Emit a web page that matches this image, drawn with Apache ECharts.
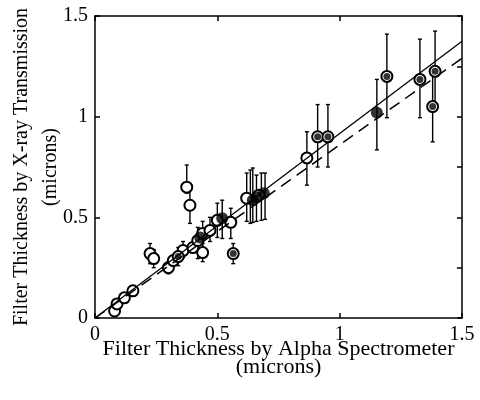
<!DOCTYPE html>
<html><head><meta charset="utf-8">
<script src="https://cdn.jsdelivr.net/npm/echarts@6/dist/echarts.min.js"></script>
<style>html,body{margin:0;padding:0;background:#fff}#c{width:480px;height:400px}</style>
</head><body><div id="c"></div>
<script>
// tick labels
const tickValues = [0, 0.5, 1, 1.5];
// open circles [x, y]
const openPts = [[0.08,0.035],[0.09,0.07],[0.12,0.10],[0.155,0.135],[0.225,0.32],[0.24,0.295],
  [0.30,0.25],[0.32,0.285],[0.36,0.335],[0.40,0.35],[0.42,0.385],[0.44,0.325],[0.44,0.42],
  [0.47,0.435],[0.375,0.65],[0.388,0.56],[0.50,0.485],[0.555,0.475],[0.62,0.595],[0.67,0.61],[0.866,0.795]];
// filled circles [x, y]
const filledPts = [[0.43,0.40],[0.52,0.495],[0.645,0.585],[0.66,0.60],[0.69,0.62],[1.152,1.02]];
// circles with dot [x, y]
const dotPts = [[0.34,0.305],[0.565,0.32],[0.91,0.90],[0.952,0.90],[1.193,1.2],[1.328,1.185],[1.39,1.225],[1.38,1.05]];
// error bars [x, low, high]
const errBars = [[0.225,0.27,0.37],[0.24,0.25,0.34],[0.30,0.22,0.28],[0.34,0.26,0.35],[0.36,0.30,0.38],
  [0.42,0.295,0.45],[0.44,0.28,0.37],[0.44,0.35,0.48],[0.47,0.38,0.50],[0.375,0.62,0.76],[0.388,0.47,0.65],
  [0.50,0.40,0.57],[0.52,0.395,0.585],[0.555,0.395,0.545],[0.565,0.27,0.37],[0.62,0.48,0.72],[0.635,0.47,0.735],
  [0.645,0.475,0.745],[0.66,0.48,0.71],[0.68,0.485,0.72],[0.695,0.49,0.72],[0.866,0.66,0.925],
  [0.91,0.75,1.06],[0.952,0.75,1.06],[1.152,0.835,1.185],[1.193,0.995,1.41],[1.328,0.995,1.385],
  [1.39,1.05,1.425],[1.38,0.875,1.22]];
// fit lines
const solidFit = [[0,0],[1.5,1.375]];
const dashedFit = [[0,0],[1.5,1.29]];

const FONT = '"Liberation Serif", "Times New Roman", serif';
const chart = echarts.init(document.getElementById('c'), null, {renderer:'canvas'});
const baseAxis = {min:0, max:1.5, interval:0.5,
  axisLine:{show:true, onZero:false, lineStyle:{color:'#000', width:1.5}},
  axisTick:{show:true, inside:true, length:5, lineStyle:{color:'#000', width:1.5}},
  splitLine:{show:false},
  axisLabel:{show:true, color:'#000', fontFamily:FONT, fontSize:20, margin:7,
    formatter: v => tickValues.includes(v) ? String(v) : ''}};
chart.setOption({
  animation:false,
  grid:{left:95, right:18, top:16, bottom:82, show:false, containLabel:false, outerBoundsMode:'none'},
  xAxis:[
    Object.assign({}, baseAxis, {type:'value', position:'bottom',
      name:'Filter Thickness by Alpha Spectrometer\n(microns)', nameLocation:'middle', nameGap:22, nameMoveOverlap:false,
      nameTextStyle:{color:'#000', fontFamily:FONT, fontSize:22, lineHeight:18, verticalAlign:'top'}}),
    Object.assign({}, baseAxis, {type:'value', position:'top', axisLabel:{show:false}})
  ],
  yAxis:[
    Object.assign({}, baseAxis, {type:'value', position:'left',
      name:'Filter Thickness by X-ray Transmission\n(microns)', nameLocation:'middle', nameGap:30, nameRotate:90, nameMoveOverlap:false,
      nameTextStyle:{color:'#000', fontFamily:FONT, fontSize:20, lineHeight:29}}),
    Object.assign({}, baseAxis, {type:'value', position:'right', interval:0.25, axisLabel:{show:false}})
  ],
  series:[
    {type:'line', data:solidFit, symbol:'none', lineStyle:{color:'#000', width:1.3}, silent:true},
    {type:'line', data:dashedFit, symbol:'none', lineStyle:{color:'#000', width:1.5, type:[12,7]}, silent:true},
    {type:'custom', data:errBars, silent:true,
      renderItem:(params, api)=>{
        const x = api.value(0);
        const lo = api.coord([x, api.value(1)]);
        const hi = api.coord([x, api.value(2)]);
        const st = {stroke:'#000', lineWidth:1.4};
        return {type:'group', children:[
          {type:'line', shape:{x1:lo[0], y1:lo[1], x2:hi[0], y2:hi[1]}, style:st},
          {type:'line', shape:{x1:lo[0]-2, y1:lo[1], x2:lo[0]+2, y2:lo[1]}, style:st},
          {type:'line', shape:{x1:hi[0]-2, y1:hi[1], x2:hi[0]+2, y2:hi[1]}, style:st}
        ]};
      }},
    {type:'scatter', data:openPts, symbol:'emptyCircle', symbolSize:11,
      itemStyle:{color:'#000', borderColor:'#000', borderWidth:1.6, opacity:1}},
    {type:'scatter', data:dotPts, symbol:'emptyCircle', symbolSize:11,
      itemStyle:{color:'#000', borderColor:'#000', borderWidth:1.6, opacity:1}},
    {type:'scatter', data:dotPts, symbol:'circle', symbolSize:7, itemStyle:{color:'#000'}},
    {type:'scatter', data:filledPts, symbol:'circle', symbolSize:12, itemStyle:{color:'#000'}}
  ]
});
</script></body></html>
